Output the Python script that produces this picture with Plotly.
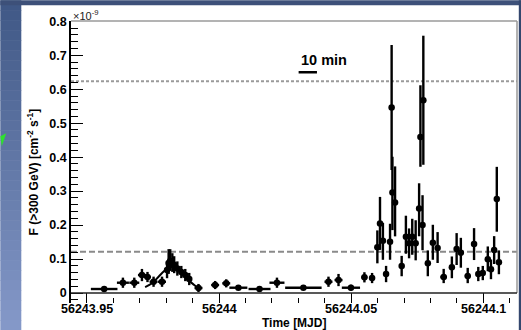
import plotly.graph_objects as go

# ---------------- data (flux in units of 1e-9 cm^-2 s^-1) ----------------
mjd = [56243.9565, 56243.9636, 56243.9679, 56243.9708, 56243.9729, 56243.9752, 56243.9784,
       56243.9803, 56243.9809, 56243.9815, 56243.9823, 56243.9830, 56243.9842, 56243.9857,
       56243.9872, 56243.9887, 56243.9922, 56243.9985, 56244.0027, 56244.0073, 56244.0153,
       56244.0219, 56244.0319, 56244.0414, 56244.0452, 56244.0499, 56244.0550, 56244.0579,
       56244.0599, 56244.0609, 56244.0620, 56244.0632, 56244.0647, 56244.0653, 56244.0656,
       56244.0666, 56244.0691, 56244.0707, 56244.0719, 56244.0731, 56244.0744, 56244.0757,
       56244.0762, 56244.0770, 56244.0773, 56244.0790, 56244.0809, 56244.0827, 56244.0850,
       56244.0881, 56244.0899, 56244.0915, 56244.0941, 56244.0965, 56244.0981, 56244.0998,
       56244.1017, 56244.1029, 56244.1041, 56244.1051, 56244.1059]
flux = [0.0118, 0.0303, 0.0303, 0.0529, 0.0471, 0.0332, 0.0332,
        0.0676, 0.0882, 0.0941, 0.0882, 0.0824, 0.0721, 0.0618,
        0.0529, 0.0412, 0.0147, 0.0235, 0.0285, 0.0156, 0.0118,
        0.0303, 0.0156, 0.0332, 0.0382, 0.0156, 0.0462, 0.0441,
        0.1344, 0.2050, 0.1538, 0.0559, 0.1509, 0.5462, 0.2962,
        0.2668, 0.0794, 0.1656, 0.1462, 0.1656, 0.1462, 0.2491,
        0.4597, 0.2000, 0.5676, 0.0874, 0.1479, 0.1324, 0.0471,
        0.0756, 0.1294, 0.1185, 0.0500, 0.1441, 0.0559, 0.0588,
        0.0991, 0.0697, 0.1265, 0.2765, 0.0903]
mjd_err = [0.00503, 0.00227, 0.00189, 0.00151, 0.00132, 0.00151, 0.00151,
           0.00076, 0.00076, 0.00076, 0.00076, 0.00076, 0.00095, 0.00095,
           0.00095, 0.00095, 0.00151, 0.00151, 0.00151, 0.00340, 0.00416,
           0.00284, 0.00690, 0.00151, 0.00151, 0.00345, 0.00113, 0.00113,
           0.00057, 0.00057, 0.00057, 0.00057, 0.00057, 0.00057, 0.00057,
           0.00057, 0.00057, 0.00057, 0.00057, 0.00057, 0.00057, 0.00057,
           0.00057, 0.00057, 0.00057, 0.00057, 0.00057, 0.00057, 0.00125,
           0.00057, 0.00057, 0.00057, 0.00113, 0.00057, 0.00076, 0.00076,
           0.00057, 0.00057, 0.00057, 0.00057, 0.00057]
flux_err_lo = [0.004, 0.015, 0.015, 0.018, 0.015, 0.015, 0.015,
               0.024, 0.032, 0.029, 0.026, 0.024, 0.021, 0.018,
               0.018, 0.018, 0.012, 0.012, 0.012, 0.006, 0.006,
               0.015, 0.006, 0.015, 0.018, 0.009, 0.015, 0.015,
               0.047, 0.078, 0.056, 0.024, 0.053, 0.184, 0.111,
               0.100, 0.030, 0.050, 0.044, 0.053, 0.050, 0.082,
               0.088, 0.074, 0.190, 0.038, 0.050, 0.044, 0.018,
               0.032, 0.047, 0.044, 0.021, 0.047, 0.021, 0.021,
               0.035, 0.029, 0.041, 0.096, 0.035]
flux_err_hi = [0.004, 0.015, 0.015, 0.018, 0.015, 0.015, 0.015,
               0.024, 0.041, 0.035, 0.029, 0.026, 0.021, 0.018,
               0.018, 0.018, 0.012, 0.012, 0.012, 0.006, 0.006,
               0.015, 0.006, 0.015, 0.018, 0.009, 0.015, 0.015,
               0.050, 0.078, 0.053, 0.024, 0.053, 0.184, 0.105,
               0.106, 0.030, 0.062, 0.044, 0.053, 0.068, 0.074,
               0.152, 0.088, 0.190, 0.038, 0.053, 0.047, 0.024,
               0.032, 0.047, 0.044, 0.024, 0.047, 0.021, 0.021,
               0.038, 0.029, 0.041, 0.095, 0.035]

# fitted flare profile
fit_mjd = [56243.9720, 56243.9747, 56243.9770, 56243.9792, 56243.9815,
           56243.9838, 56243.9860, 56243.9883, 56243.9906, 56243.9925]
fit_flux = [0.0176, 0.0294, 0.0470, 0.0647, 0.0765,
            0.0735, 0.0559, 0.0382, 0.0235, 0.0118]

upper_level = 0.6235
lower_level = 0.1215

scale_bar_start = 56244.0301
scale_bar_len = 10.0 / 1440.0  # 10 min in days
scale_bar_flux = 0.650

x_ticks = [56243.95, 56244.0, 56244.05, 56244.1]
x_tick_text = ["56243.95", "56244", "56244.05", "56244.1"]
y_ticks = [0, 0.1, 0.2, 0.3, 0.4, 0.5, 0.6, 0.7, 0.8]
y_tick_text = ["0", "0.1", "0.2", "0.3", "0.4", "0.5", "0.6", "0.7", "0.8"]

x_range = [56243.94395, 56244.11275]
y_range = [-0.0294, 0.8009]

# ---------------- layout geometry (pixels) ----------------
W, H = 521, 330
L, R, T, B = 70.7, 4.3, 20.7, 27.0
PW, PH = W - L - R, H - T - B


def px(xp):
    return (xp - L) / PW


def py(yp):
    return (H - B - yp) / PH


def mix(c0, c1, t):
    return "rgb(%d,%d,%d)" % tuple(round(a + (b - a) * t) for a, b in zip(c0, c1))


FONT = "Liberation Sans"

fig = go.Figure()

# reference levels
for lvl, dash, col in [(upper_level, "3px,2px", "#9a9a9a"), (lower_level, "6px,3px", "#8a8a8a")]:
    fig.add_trace(go.Scatter(x=x_range, y=[lvl, lvl], mode="lines",
                             line=dict(color=col, width=2, dash=dash),
                             hoverinfo="skip", showlegend=False))

# fit
fig.add_trace(go.Scatter(x=fit_mjd, y=fit_flux, mode="lines",
                         line=dict(color="black", width=2, shape="spline"),
                         hoverinfo="skip", showlegend=False))

# data points
fig.add_trace(go.Scatter(
    x=mjd, y=flux, mode="markers",
    marker=dict(color="black", size=6.5),
    error_x=dict(type="data", array=mjd_err, color="black", thickness=2.4, width=0),
    error_y=dict(type="data", array=flux_err_hi, arrayminus=flux_err_lo,
                 symmetric=False, color="black", thickness=2.4, width=0),
    showlegend=False))

shapes = []
# slide background strips (vertical gradient on the left)
top_c, bot_c = (64, 88, 134), (132, 152, 200)
nb = 33
for i in range(nb):
    y0 = H * i / nb
    y1 = H * (i + 1) / nb + 0.6
    shapes.append(dict(type="rect", xref="paper", yref="paper",
                       x0=px(0), x1=px(21), y0=py(y1), y1=py(y0),
                       fillcolor=mix(top_c, bot_c, i / (nb - 1)), line=dict(width=0),
                       layer="below"))
shapes.append(dict(type="rect", xref="paper", yref="paper",
                   x0=px(0), x1=px(W), y0=py(5), y1=py(0),
                   fillcolor="#3d5079", line=dict(width=0), layer="below"))
shapes.append(dict(type="rect", xref="paper", yref="paper",
                   x0=px(518.5), x1=px(W), y0=py(H), y1=py(0),
                   fillcolor="#34476e", line=dict(width=0), layer="below"))
# small green arrow tip on the slide
shapes.append(dict(type="path", xref="paper", yref="paper",
                   path=f"M {px(0)} {py(136)} L {px(6)} {py(133)} L {px(1.5)} {py(146)} Z",
                   fillcolor="#2ee02e", line=dict(width=0), layer="above"))
# frame top / right (grey)
shapes.append(dict(type="line", xref="paper", yref="paper", x0=0, x1=1, y0=1, y1=1,
                   line=dict(color="#9a9a9a", width=1.5)))
shapes.append(dict(type="line", xref="paper", yref="paper", x0=1, x1=1, y0=py(293), y1=1,
                   line=dict(color="#9a9a9a", width=1.5)))
# zero line (drawn axis line)
shapes.append(dict(type="line", xref="paper", yref="y", x0=0, x1=1, y0=0, y1=0,
                   line=dict(color="#222222", width=1.5)))
# 10 min scale bar
shapes.append(dict(type="line", xref="x", yref="y", x0=scale_bar_start,
                   x1=scale_bar_start + scale_bar_len, y0=scale_bar_flux, y1=scale_bar_flux,
                   line=dict(color="black", width=2.5)))

tick_font = dict(family=FONT, size=12.5, color="black", weight="bold")
annotations = [
    dict(text="10 min", xref="x", yref="y", x=scale_bar_start + 0.0003, y=0.686,
         xanchor="left", yanchor="middle", showarrow=False,
         font=dict(family=FONT, size=14.5, color="black", weight="bold")),
    dict(text="\u00d710<sup>-9</sup>", xref="paper", yref="paper", x=px(71), y=py(15),
         xanchor="left", yanchor="middle", showarrow=False,
         font=dict(family=FONT, size=11, color="#222222")),
    dict(text="F (>300 GeV) [cm<sup>-2</sup> s<sup>-1</sup>]", xref="paper", yref="paper",
         x=px(33), y=py(172), xanchor="center", yanchor="middle", textangle=-90,
         showarrow=False, font=dict(family=FONT, size=12, color="black", weight="bold")),
    dict(text="Time [MJD]", xref="paper", yref="paper", x=px(294), y=py(323),
         xanchor="center", yanchor="middle", showarrow=False,
         font=dict(family=FONT, size=12, color="black", weight="bold")),
]
for tv, tt in zip(x_ticks, x_tick_text):
    annotations.append(dict(text=tt, xref="x", yref="paper", x=tv, y=py(309.5),
                            xanchor="center", yanchor="middle", showarrow=False,
                            font=tick_font))

fig.update_layout(
    width=W, height=H,
    margin=dict(l=L, r=R, t=T, b=B, pad=0),
    paper_bgcolor="white", plot_bgcolor="white",
    shapes=shapes, annotations=annotations,
    showlegend=False,
    font=dict(family=FONT, color="black"),
    xaxis=dict(range=x_range, showgrid=False, zeroline=False,
               showline=False, showticklabels=False,
               tickmode="array", tickvals=x_ticks,
               ticks="inside", ticklen=10, tickwidth=1, tickcolor="black",
               minor=dict(dtick=0.01, tick0=56243.95, ticks="inside", ticklen=5,
                          tickwidth=1, tickcolor="black", showgrid=False)),
    yaxis=dict(range=y_range, showgrid=False, zeroline=False,
               showline=True, linecolor="black", linewidth=1.5, mirror=False,
               tickmode="array", tickvals=y_ticks, ticktext=y_tick_text,
               ticks="inside", ticklen=12, tickwidth=1, tickcolor="black",
               minor=dict(dtick=0.02, tick0=0, ticks="inside", ticklen=7,
                          tickwidth=1, tickcolor="black", showgrid=False),
               tickfont=tick_font),
)

fig.write_html("out.html")
